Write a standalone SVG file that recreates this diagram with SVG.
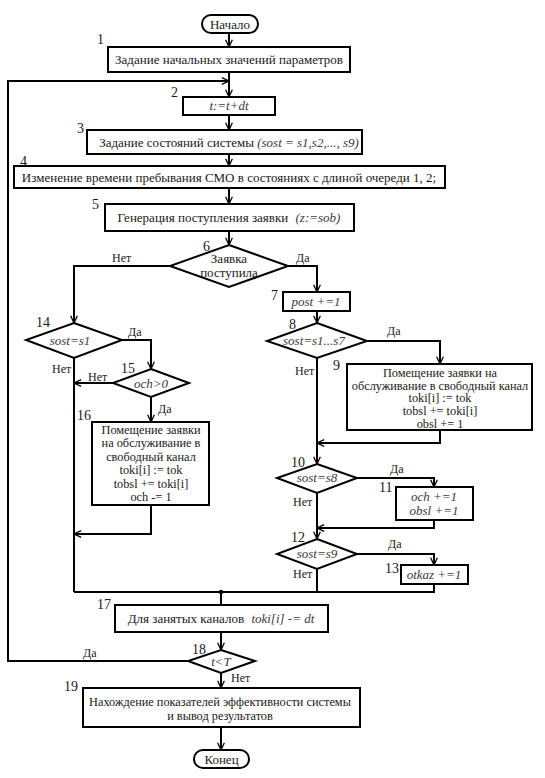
<svg xmlns="http://www.w3.org/2000/svg" width="545" height="778" viewBox="0 0 545 778">
<style>
.b{fill:#fff;stroke:#000;stroke-width:2}
.t{font-family:"Liberation Serif","Times New Roman",serif;font-size:13px;fill:#1a1a1a;text-anchor:middle}
.s{font-size:12.3px}
.i{font-style:italic;fill:#3a3a3a}
.n{font-family:"Liberation Serif","Times New Roman",serif;font-size:14px;fill:#1a1a1a}
.y{font-family:"Liberation Serif","Times New Roman",serif;font-size:12px;fill:#1a1a1a}
.c{fill:none;stroke:#000;stroke-width:2}
.a{marker-end:url(#arr)}
</style>
<defs>
<marker id="arr" viewBox="0 0 10 10" refX="9.5" refY="5" markerWidth="8" markerHeight="8" markerUnits="userSpaceOnUse" orient="auto">
<path d="M0.5,0.8 L9.5,5 L0.5,9.2" fill="none" stroke="#000" stroke-width="1.6"/>
</marker>
</defs>
<rect width="545" height="778" fill="#fff"/>

<g id="connectors">
<path class="c a" d="M229,33 V47"/>
<path class="c a" d="M229,72 V97"/>
<path class="c a" d="M188,661 H8 V81 H229"/>
<path class="c a" d="M229,115 V130"/>
<path class="c a" d="M229,154 V166"/>
<path class="c a" d="M229,188 V204"/>
<path class="c a" d="M229,231 V245"/>
<path class="c a" d="M170,266 H74 V323"/>
<path class="c a" d="M288,266 H317 V292"/>
<path class="c a" d="M317,311 V323"/>
<path class="c a" d="M367,341 H440 V364"/>
<path class="c a" d="M317,358 V464"/>
<path class="c a" d="M440,430 V443 H317"/>
<path class="c a" d="M357,478 H434 V487"/>
<path class="c a" d="M317,493 V539"/>
<path class="c a" d="M434,520 V528 H317"/>
<path class="c a" d="M357,554 H434 V565"/>
<path class="c" d="M317,569 V592"/>
<path class="c" d="M434,584 V592 H74"/>
<path class="c a" d="M122,340 H151 V369"/>
<path class="c" d="M74,358 V592"/>
<path class="c a" d="M113,383 H74"/>
<path class="c a" d="M151,397 V422"/>
<path class="c a" d="M151,505 V534 H74"/>
<path class="c" d="M221,592 V605"/>
<circle cx="221" cy="592" r="2.2" fill="#000"/>
<path class="c a" d="M221,632 V650"/>
<path class="c a" d="M221,673 V688"/>
<path class="c a" d="M221,727 V750"/>
</g>

<g id="labels">
<text class="y" x="112" y="262">Нет</text>
<text class="y" x="296" y="262">Да</text>
<text class="y" x="128" y="336">Да</text>
<text class="y" x="52" y="373">Нет</text>
<text class="y" x="88" y="381">Нет</text>
<text class="y" x="158" y="413">Да</text>
<text class="y" x="387" y="335">Да</text>
<text class="y" x="295" y="375">Нет</text>
<text class="y" x="390" y="473">Да</text>
<text class="y" x="293" y="506">Нет</text>
<text class="y" x="388" y="548">Да</text>
<text class="y" x="293" y="578">Нет</text>
<text class="y" x="83" y="657">Да</text>
<text class="y" x="231" y="682">Нет</text>
</g>

<g id="start">
<rect class="b" x="202" y="15" width="56" height="18" rx="9"/>
<text class="t" x="230" y="28.5">Начало</text>
</g>

<g id="n1">
<rect class="b" x="108" y="47" width="242" height="25"/>
<text class="n" x="97" y="44">1</text>
<text class="t" x="229" y="64">Задание начальных значений параметров</text>
</g>

<g id="n2">
<rect class="b" x="183" y="97" width="92" height="18"/>
<text class="n" x="171" y="97">2</text>
<text class="t i" x="229" y="110">t:=t+dt</text>
</g>

<g id="n3">
<rect class="b" x="87" y="130" width="275" height="24"/>
<text class="n" x="77" y="133">3</text>
<text class="t" x="229" y="146.5">Задание состояний системы <tspan class="i">(sost = s1,s2,..., s9)</tspan></text>
</g>

<g id="n4">
<rect class="b" x="14" y="166" width="431" height="22"/>
<text class="n" x="20" y="166">4</text>
<text class="t" x="229" y="181.5">Изменение времени пребывания СМО в состояниях с длиной очереди 1, 2;</text>
</g>

<g id="n5">
<rect class="b" x="105" y="204" width="249" height="27"/>
<text class="n" x="92" y="209">5</text>
<text class="t" x="229" y="222">Генерация поступления заявки <tspan class="i" dx="4">(z:=sob)</tspan></text>
</g>

<g id="n6">
<polygon class="b" points="229,245 288,266 229,287 170,266"/>
<text class="n" x="203" y="251">6</text>
<text class="t" x="229" y="263">Заявка</text>
<text class="t" x="229" y="277">поступила</text>
</g>

<g id="n7">
<rect class="b" x="283" y="292" width="67" height="19"/>
<text class="n" x="271" y="300">7</text>
<text class="t i" x="316" y="306">post +=1</text>
</g>

<g id="n8">
<polygon class="b" points="317,323 367,341 317,358 267,341"/>
<text class="n" x="289" y="329">8</text>
<text class="t i" x="314" y="345">sost=s1...s7</text>
</g>

<g id="n9">
<rect class="b" x="347" y="364" width="185" height="66"/>
<text class="n" x="333" y="370">9</text>
<text class="t s" x="440" y="377">Помещение заявки на</text>
<text class="t s" x="440" y="389.7">обслуживание в свободный канал</text>
<text class="t s" x="440" y="402.4">toki[i] := tok</text>
<text class="t s" x="440" y="415.1">tobsl += toki[i]</text>
<text class="t s" x="440" y="427.6">obsl += 1</text>
</g>

<g id="n10">
<polygon class="b" points="317,464 357,478 317,493 277,478"/>
<text class="n" x="291" y="467">10</text>
<text class="t i" x="317" y="482">sost=s8</text>
</g>

<g id="n11">
<rect class="b" x="396" y="487" width="77" height="33"/>
<text class="n" x="379" y="492">11</text>
<text class="t i" x="434" y="501">och +=1</text>
<text class="t i" x="434" y="515">obsl +=1</text>
</g>

<g id="n12">
<polygon class="b" points="317,539 357,554 317,569 277,554"/>
<text class="n" x="291" y="542">12</text>
<text class="t i" x="317" y="558">sost=s9</text>
</g>

<g id="n13">
<rect class="b" x="401" y="565" width="67" height="19"/>
<text class="n" x="385" y="573">13</text>
<text class="t i" x="434" y="579">otkaz +=1</text>
</g>

<g id="n14">
<polygon class="b" points="74,323 122,340 74,358 26,340"/>
<text class="n" x="36" y="327">14</text>
<text class="t i" x="70" y="344.5">sost=s1</text>
</g>

<g id="n15">
<polygon class="b" points="151,369 189,383 151,397 113,383"/>
<text class="n" x="121" y="373">15</text>
<text class="t i" x="151" y="387.5">och&gt;0</text>
</g>

<g id="n16">
<rect class="b" x="92" y="422" width="117" height="83"/>
<text class="n" x="77" y="420">16</text>
<text class="t s" x="151" y="434">Помещение заявки</text>
<text class="t s" x="151" y="447.4">на обслуживание в</text>
<text class="t s" x="151" y="460.8">свободный канал</text>
<text class="t s" x="151" y="474.2">toki[i] := tok</text>
<text class="t s" x="151" y="487.6">tobsl += toki[i]</text>
<text class="t s" x="151" y="501">och -= 1</text>
</g>

<g id="n17">
<rect class="b" x="115" y="605" width="213" height="27"/>
<text class="n" x="97" y="609">17</text>
<text class="t" x="221" y="623">Для занятых каналов <tspan class="i" dx="4">toki[i] -= dt</tspan></text>
</g>

<g id="n18">
<polygon class="b" points="221,650 255,661 221,673 188,661"/>
<text class="n" x="192" y="654">18</text>
<text class="t i" x="221" y="665.5">t&lt;T</text>
</g>

<g id="n19">
<rect class="b" x="83" y="688" width="277" height="39"/>
<text class="n" x="64" y="691">19</text>
<text class="t s" x="220" y="706">Нахождение показателей эффективности системы</text>
<text class="t s" x="220" y="719.5">и вывод результатов</text>
</g>

<g id="end">
<rect class="b" x="194" y="750" width="55" height="18" rx="9"/>
<text class="t" x="221.5" y="763.5">Конец</text>
</g>
</svg>
